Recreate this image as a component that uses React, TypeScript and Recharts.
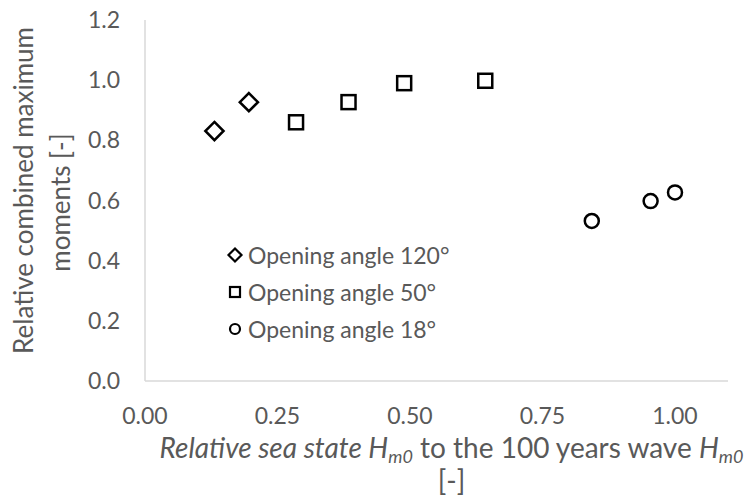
import { Legend, Scatter, ScatterChart, XAxis, YAxis } from "recharts";

const angle120 = [
  { x: 0.131, y: 0.831 },
  { x: 0.196, y: 0.927 },
];
const angle50 = [
  { x: 0.285, y: 0.86 },
  { x: 0.384, y: 0.927 },
  { x: 0.489, y: 0.99 },
  { x: 0.642, y: 0.998 },
];
const angle18 = [
  { x: 0.843, y: 0.532 },
  { x: 0.954, y: 0.598 },
  { x: 1.0, y: 0.627 },
];
const xTicks = [0, 0.25, 0.5, 0.75, 1.0];
const yTicks = [0, 0.2, 0.4, 0.6, 0.8, 1.0, 1.2];
const legendNames = ["Opening angle 120°", "Opening angle 50°", "Opening angle 18°"];

const FONT = "Lato, 'Open Sans', sans-serif";
const GREY = "#595959";

type Kind = "diamond" | "square" | "circle";

function marker(kind: Kind, cx: number, cy: number, r: number, sw: number) {
  if (kind === "diamond") {
    const d = r * 1.3;
    return (
      <polygon
        points={`${cx},${cy - d} ${cx + d},${cy} ${cx},${cy + d} ${cx - d},${cy}`}
        fill="#fff"
        stroke="#000"
        strokeWidth={sw}
      />
    );
  }
  if (kind === "square") {
    return (
      <rect x={cx - r} y={cy - r} width={r * 2} height={r * 2} fill="#fff" stroke="#000" strokeWidth={sw} />
    );
  }
  return <circle cx={cx} cy={cy} r={r} fill="#fff" stroke="#000" strokeWidth={sw} />;
}

const shapeFor = (kind: Kind) => (props: any) => marker(kind, props.cx, props.cy, 7, 2.5);

const kinds: Kind[] = ["diamond", "square", "circle"];

function LegendBox() {
  return (
    <div style={{ fontFamily: FONT, fontSize: 23, color: GREY }}>
      {legendNames.map((name, i) => (
        <div key={name} style={{ height: 37, display: "flex", alignItems: "center" }}>
          <svg width={18} height={18} style={{ marginRight: 4 }}>
            {marker(kinds[i], 9, 9, 5, 2.2)}
          </svg>
          <span style={{ whiteSpace: "nowrap" }}>{name}</span>
        </div>
      ))}
    </div>
  );
}

function YTitle(props: any) {
  const vb = props.viewBox;
  const cy = vb.y + vb.height / 2;
  const common = {
    fill: GREY,
    fontFamily: FONT,
    fontSize: 26,
    textAnchor: "middle" as const,
  };
  const c1 = cy - 10;
  const c2 = cy + 2;
  return (
    <g>
      <text {...common} x={33} y={c1} transform={`rotate(-90 33 ${c1})`}>
        Relative combined maximum
      </text>
      <text {...common} x={70} y={c2} transform={`rotate(-90 70 ${c2})`}>
        moments [-]
      </text>
    </g>
  );
}

function XTitle(props: any) {
  const vb = props.viewBox;
  const cx = vb.x + vb.width / 2 + 15;
  const common = { fill: GREY, fontFamily: FONT, fontSize: 28, textAnchor: "middle" as const };
  return (
    <g>
      <text {...common} x={cx} y={vb.y + 77}>
        <tspan fontStyle="italic">Relative sea state H</tspan>
        <tspan fontStyle="italic" fontSize={18} dy={5}>m0</tspan>
        <tspan dy={-5}>{" to the 100 years wave "}</tspan>
        <tspan fontStyle="italic">H</tspan>
        <tspan fontStyle="italic" fontSize={18} dy={5}>m0</tspan>
      </text>
      <text {...common} x={cx} y={vb.y + 110}>
        [-]
      </text>
    </g>
  );
}

export default function App() {
  const tickStyle = { fill: GREY, fontSize: 23, fontFamily: FONT };
  return (
    <div style={{ position: "absolute", left: 0, top: 0, background: "#fff" }}>
      <ScatterChart width={749} height={502} margin={{ top: 20, right: 21, bottom: 0, left: 0 }}>
        <XAxis
          type="number"
          dataKey="x"
          domain={[0, 1.1]}
          ticks={xTicks}
          tickFormatter={(v: number) => v.toFixed(2)}
          tick={tickStyle}
          tickLine={false}
          tickSize={0}
          tickMargin={27}
          axisLine={{ stroke: "#d9d9d9", strokeWidth: 1.5 }}
          height={121}
          label={<XTitle />}
        />
        <YAxis
          type="number"
          dataKey="y"
          domain={[0, 1.2]}
          ticks={yTicks}
          tickFormatter={(v: number) => v.toFixed(1)}
          tick={tickStyle}
          tickLine={false}
          tickSize={0}
          tickMargin={25}
          axisLine={{ stroke: "#d9d9d9", strokeWidth: 1.5 }}
          width={145}
          label={<YTitle />}
        />
        <Legend
          layout="vertical"
          align="center"
          verticalAlign="middle"
          content={() => <LegendBox />}
          wrapperStyle={{ left: 226, top: 236, width: 260 }}
        />
        <Scatter name={legendNames[0]} data={angle120} shape={shapeFor("diamond")} isAnimationActive={false} />
        <Scatter name={legendNames[1]} data={angle50} shape={shapeFor("square")} isAnimationActive={false} />
        <Scatter name={legendNames[2]} data={angle18} shape={shapeFor("circle")} isAnimationActive={false} />
      </ScatterChart>
    </div>
  );
}
